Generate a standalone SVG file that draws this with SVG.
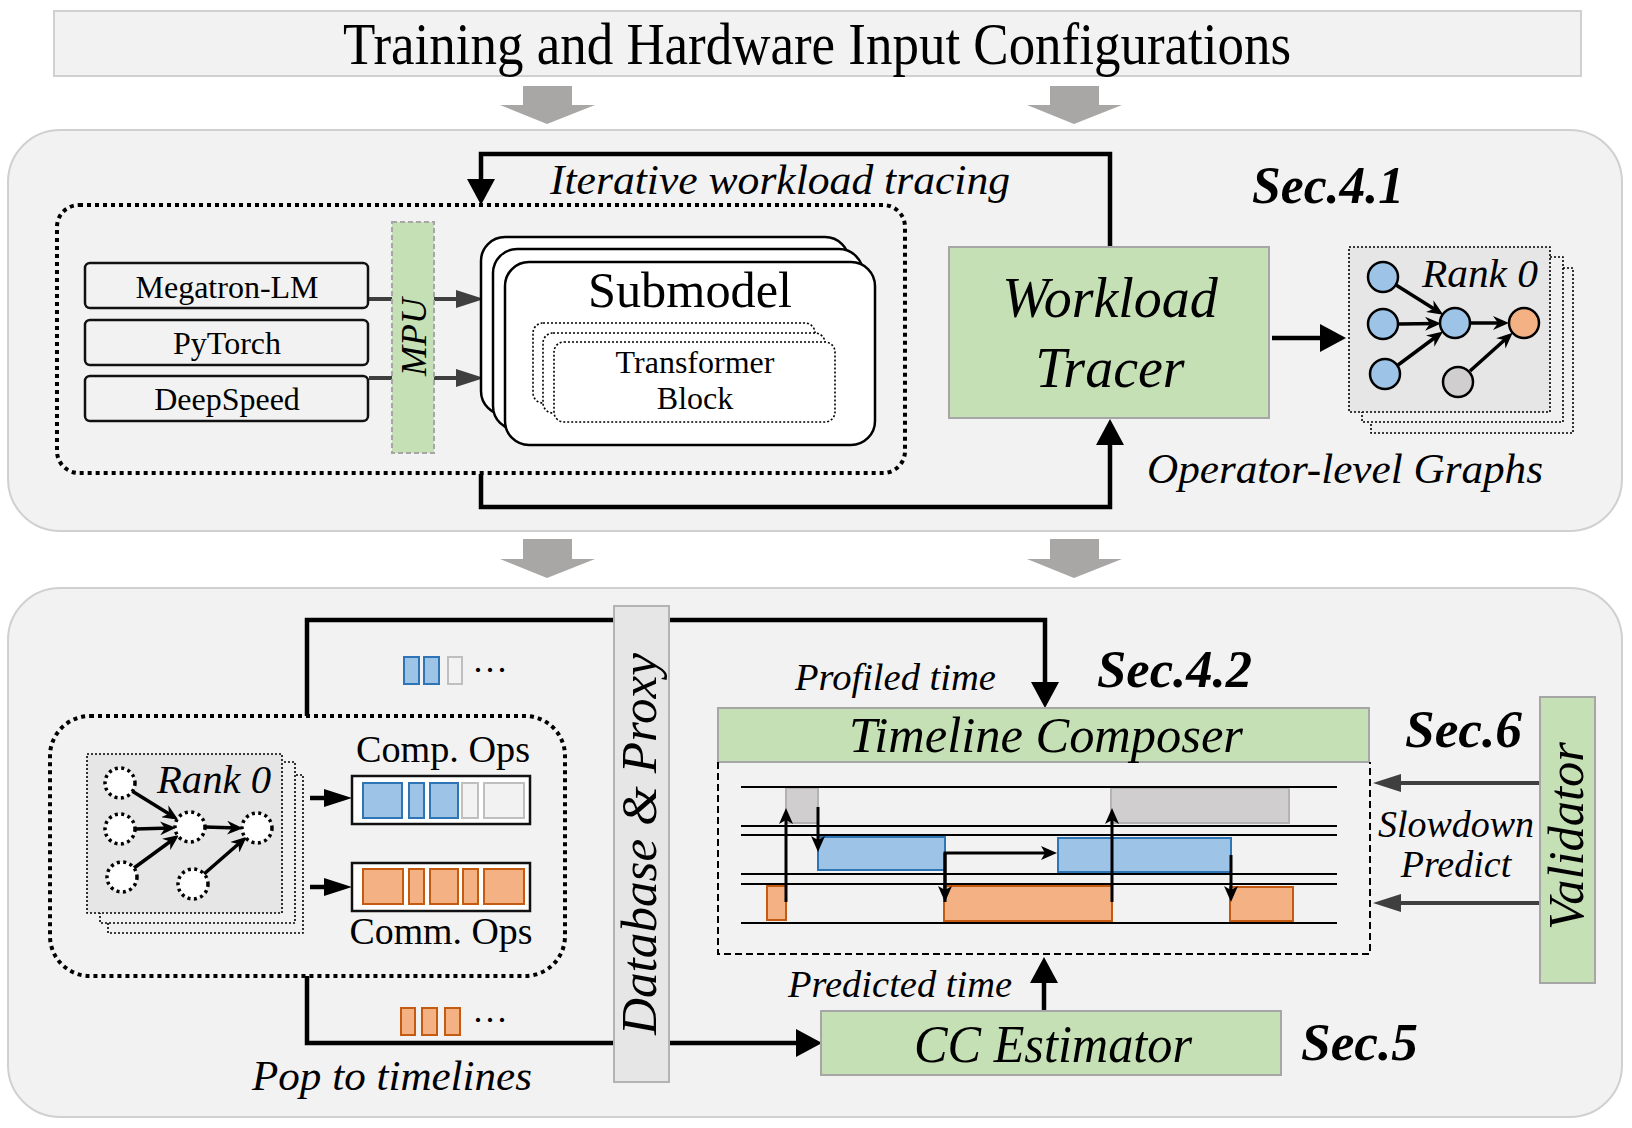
<svg xmlns="http://www.w3.org/2000/svg" width="1632" height="1128" viewBox="0 0 1632 1128">
<style>
text{font-family:"Liberation Serif","Times New Roman",serif;fill:#000}
.it{font-style:italic}
.sec{font-style:italic;font-weight:bold;font-size:52px}
.panel{fill:#f2f2f2;stroke:#d0d0d0;stroke-width:2}
.green{fill:#c5e0b4;stroke:#a6a6a6;stroke-width:2}
.fw{fill:#f2f2f2;stroke:#111;stroke-width:2.5}
.conn{fill:none;stroke:#000;stroke-width:4.5}
.dconn{fill:none;stroke:#3f3f3f;stroke-width:4}
.edge{fill:none;stroke:#000;stroke-width:3.5}
.tl{fill:none;stroke:#000;stroke-width:3}
.tline{stroke:#000;stroke-width:2}
.dot{stroke:#000;stroke-width:1.6;stroke-dasharray:2 2}
.blue{fill:#9dc3e6;stroke:#2e75b6;stroke-width:2}
.orange{fill:#f4b183;stroke:#c55a11;stroke-width:2}
.gray{fill:#d0cece;stroke:#b5b2b2;stroke-width:2}
.wg{fill:#f2f2f2;stroke:#bfbfbf;stroke-width:2}
.garrow{fill:#a9a6a6}
</style>
<defs>
<marker id="big" viewBox="0 0 26 28" refX="14" refY="14" markerWidth="26" markerHeight="28" orient="auto" markerUnits="userSpaceOnUse"><path d="M0,0 L26,14 L0,28 Z" fill="#000"/></marker>
<marker id="dg" viewBox="0 0 28 18" refX="16" refY="9" markerWidth="28" markerHeight="18" orient="auto" markerUnits="userSpaceOnUse"><path d="M0,0 L28,9 L0,18 Z" fill="#3f3f3f"/></marker>
<marker id="bm" viewBox="0 0 28 18" refX="16" refY="9" markerWidth="28" markerHeight="18" orient="auto" markerUnits="userSpaceOnUse"><path d="M0,0 L28,9 L0,18 Z" fill="#000"/></marker>
<marker id="barb" viewBox="0 0 16 14" refX="11" refY="7" markerWidth="16" markerHeight="14" orient="auto" markerUnits="userSpaceOnUse"><path d="M0,0 L16,7 L0,14 L5,7 Z" fill="#000"/></marker>
<marker id="tla" viewBox="0 0 16 14" refX="10" refY="7" markerWidth="16" markerHeight="14" orient="auto" markerUnits="userSpaceOnUse"><path d="M0,0 L16,7 L0,14 L4,7 Z" fill="#000"/></marker>
</defs>

<!-- top input box -->
<g id="input-config">
<rect x="54" y="11" width="1527" height="65" fill="#f2f2f2" stroke="#d0d0d0" stroke-width="2"/>
<text x="817" y="64" font-size="60" text-anchor="middle" textLength="948" lengthAdjust="spacingAndGlyphs">Training and Hardware Input Configurations</text>
</g>

<!-- gray flow arrows -->
<g id="gray-arrows">
<path class="garrow" d="M523,86 H572 V105 H595 L547,124 L500,105 H523 Z"/>
<path class="garrow" d="M1050,86 H1099 V105 H1122 L1074,124 L1027,105 H1050 Z"/>
<path class="garrow" d="M523,539 H572 V559 H595 L547,578 L500,559 H523 Z"/>
<path class="garrow" d="M1050,539 H1099 V559 H1122 L1074,578 L1027,559 H1050 Z"/>
</g>

<!-- panels -->
<rect id="panel-1" class="panel" x="8" y="130" width="1614" height="401" rx="52"/>
<rect id="panel-2" class="panel" x="8" y="588" width="1614" height="529" rx="52"/>

<!-- connectors -->
<g id="connectors">
<path class="conn" d="M1110,247 V154 H481 V193" marker-end="url(#big)"/>
<path class="conn" d="M481,474 V507 H1110 V431" marker-end="url(#big)"/>
<path class="conn" d="M1272,338 H1334" marker-end="url(#big)"/>
<path class="dconn" d="M369,299 H472" marker-end="url(#dg)"/>
<path class="dconn" d="M369,378 H472" marker-end="url(#dg)"/>
<path class="conn" d="M307,716 V620 H1045 V696" marker-end="url(#big)"/>
<path class="conn" d="M307,976 V1043 H810" marker-end="url(#big)"/>
<path class="conn" d="M1044,1011 V969" marker-end="url(#big)"/>
<path class="conn" d="M310,798 H340" marker-end="url(#bm)"/>
<path class="conn" d="M310,887 H340" marker-end="url(#bm)"/>
<path class="dconn" d="M1541,783 H1385" marker-end="url(#dg)"/>
<path class="dconn" d="M1541,903 H1385" marker-end="url(#dg)"/>
</g>

<!-- panel 1 -->
<g id="framework-group">
<rect x="57" y="205" width="848" height="268" rx="22" fill="none" stroke="#000" stroke-width="4" stroke-dasharray="4 4"/>
</g>
<text id="iter-label" class="it" x="550" y="194" font-size="42" textLength="460" lengthAdjust="spacingAndGlyphs">Iterative workload tracing</text>

<g id="megatron"><rect class="fw" x="85" y="263" width="283" height="45" rx="5"/><text x="227" y="298" font-size="32" text-anchor="middle">Megatron-LM</text></g>
<g id="pytorch"><rect class="fw" x="85" y="320" width="283" height="45" rx="5"/><text x="227" y="354" font-size="32" text-anchor="middle">PyTorch</text></g>
<g id="deepspeed"><rect class="fw" x="85" y="376" width="283" height="45" rx="5"/><text x="227" y="410" font-size="32" text-anchor="middle">DeepSpeed</text></g>

<g id="mpu">
<rect x="392" y="222" width="42" height="231" fill="#c5e0b4" stroke="#a6a6a6" stroke-width="2" stroke-dasharray="5 3"/>
<text class="it" transform="translate(426,337) rotate(-90)" font-size="36" text-anchor="middle">MPU</text>
</g>

<g id="submodel">
<rect x="481" y="237" width="368" height="178" rx="24" fill="#fff" stroke="#000" stroke-width="2.5"/>
<rect x="493" y="249" width="370" height="181" rx="24" fill="#fff" stroke="#000" stroke-width="2.5"/>
<rect x="505" y="262" width="370" height="183" rx="24" fill="#fff" stroke="#000" stroke-width="2.5"/>
<text x="690" y="307" font-size="51" text-anchor="middle" textLength="204" lengthAdjust="spacingAndGlyphs">Submodel</text>
<rect x="533" y="323" width="282" height="80" rx="10" fill="#fff" class="dot"/>
<rect x="543" y="333" width="282" height="80" rx="10" fill="#fff" class="dot"/>
<rect x="554" y="342" width="281" height="80" rx="10" fill="#fff" class="dot"/>
<text x="695" y="373" font-size="32" text-anchor="middle">Transformer</text>
<text x="695" y="409" font-size="32" text-anchor="middle">Block</text>
</g>

<g id="workload-tracer">
<rect class="green" x="949" y="247" width="320" height="171"/>
<text class="it" x="1110" y="317" font-size="56" text-anchor="middle">Workload</text>
<text class="it" x="1110" y="387" font-size="56" text-anchor="middle">Tracer</text>
</g>
<text id="sec41" class="sec" x="1252" y="203" textLength="152" lengthAdjust="spacingAndGlyphs">Sec.4.1</text>

<g id="op-graph">
<rect x="1371" y="268" width="202" height="165" fill="#f0f0f0" class="dot"/>
<rect x="1362" y="257" width="201" height="165" fill="#f0f0f0" class="dot"/>
<rect x="1349" y="247" width="201" height="165" fill="#e6e6e6" class="dot"/>
<text class="it" x="1422" y="287" font-size="40" textLength="116" lengthAdjust="spacingAndGlyphs">Rank 0</text>
<line class="edge" x1="1396" y1="285" x2="1439" y2="312" marker-end="url(#barb)"/>
<line class="edge" x1="1399" y1="324" x2="1436" y2="323.5" marker-end="url(#barb)"/>
<line class="edge" x1="1398" y1="365" x2="1439" y2="334.5" marker-end="url(#barb)"/>
<line class="edge" x1="1471" y1="323" x2="1504" y2="323" marker-end="url(#barb)"/>
<line class="edge" x1="1470" y1="371" x2="1509" y2="336" marker-end="url(#barb)"/>
<circle cx="1383" cy="277" r="15" fill="#9dc3e6" stroke="#000" stroke-width="2.5"/>
<circle cx="1383" cy="324" r="15" fill="#9dc3e6" stroke="#000" stroke-width="2.5"/>
<circle cx="1385" cy="374" r="15" fill="#9dc3e6" stroke="#000" stroke-width="2.5"/>
<circle cx="1455" cy="323" r="15" fill="#9dc3e6" stroke="#000" stroke-width="2.5"/>
<circle cx="1524" cy="323" r="15" fill="#f4b183" stroke="#000" stroke-width="2.5"/>
<circle cx="1458" cy="382" r="15" fill="#d0cece" stroke="#000" stroke-width="2.5"/>
</g>
<text id="op-graph-label" class="it" x="1147" y="483" font-size="42" textLength="396" lengthAdjust="spacingAndGlyphs">Operator-level Graphs</text>

<!-- panel 2 -->
<g id="db-proxy">
<rect x="614" y="606" width="55" height="476" fill="#e6e6e6" stroke="#b3b3b3" stroke-width="2"/>
<text class="it" transform="translate(656,844) rotate(-90)" font-size="50" text-anchor="middle" textLength="382" lengthAdjust="spacingAndGlyphs">Database &amp; Proxy</text>
</g>

<g id="queue-comp">
<rect class="blue" x="404" y="657" width="15" height="27"/>
<rect class="blue" x="424" y="657" width="15" height="27"/>
<rect class="wg" x="448" y="657" width="14" height="27"/>
<text x="472" y="682" font-size="36">···</text>
</g>
<g id="queue-comm">
<rect class="orange" x="401" y="1008" width="14" height="27"/>
<rect class="orange" x="422" y="1008" width="15" height="27"/>
<rect class="orange" x="445" y="1008" width="15" height="27"/>
<text x="472" y="1032" font-size="36">···</text>
</g>

<g id="ops-group">
<rect x="50" y="716" width="515" height="260" rx="40" fill="none" stroke="#000" stroke-width="4" stroke-dasharray="4 4"/>
<rect x="108" y="775" width="195" height="158" fill="#f0f0f0" class="dot"/>
<rect x="100" y="762" width="195" height="161" fill="#f0f0f0" class="dot"/>
<rect x="87" y="754" width="195" height="159" fill="#e6e6e6" class="dot"/>
<text class="it" x="157" y="793" font-size="40" textLength="114" lengthAdjust="spacingAndGlyphs">Rank 0</text>
<line class="edge" x1="132" y1="791" x2="174" y2="817" marker-end="url(#barb)"/>
<line class="edge" x1="135" y1="829" x2="171" y2="828" marker-end="url(#barb)"/>
<line class="edge" x1="134" y1="868" x2="175" y2="838" marker-end="url(#barb)"/>
<line class="edge" x1="205" y1="827" x2="238" y2="828" marker-end="url(#barb)"/>
<line class="edge" x1="204" y1="874" x2="243" y2="840" marker-end="url(#barb)"/>
<g fill="#fff" stroke="#000" stroke-width="3.5" stroke-dasharray="3 3.5">
<circle cx="120" cy="783" r="15"/>
<circle cx="120" cy="829" r="15"/>
<circle cx="122" cy="877" r="15"/>
<circle cx="190" cy="827" r="15"/>
<circle cx="257" cy="828" r="15"/>
<circle cx="193" cy="884" r="15"/>
</g>
<text x="443" y="762" font-size="37" text-anchor="middle" textLength="174" lengthAdjust="spacingAndGlyphs">Comp. Ops</text>
<rect x="352" y="776" width="178" height="48" fill="#fff" stroke="#111" stroke-width="2.5"/>
<rect class="blue" x="363" y="783" width="39" height="35"/>
<rect class="blue" x="409" y="783" width="15" height="35"/>
<rect class="blue" x="430" y="783" width="28" height="35"/>
<rect class="wg" x="462" y="783" width="16" height="35"/>
<rect class="wg" x="484" y="783" width="40" height="35"/>
<rect x="352" y="863" width="178" height="48" fill="#fff" stroke="#111" stroke-width="2.5"/>
<rect class="orange" x="363" y="869" width="40" height="35"/>
<rect class="orange" x="409" y="869" width="15" height="35"/>
<rect class="orange" x="430" y="869" width="28" height="35"/>
<rect class="orange" x="463" y="869" width="15" height="35"/>
<rect class="orange" x="484" y="869" width="40" height="35"/>
<text x="441" y="944" font-size="38" text-anchor="middle" textLength="183" lengthAdjust="spacingAndGlyphs">Comm. Ops</text>
</g>
<text id="pop-label" class="it" x="252" y="1090" font-size="42" textLength="280" lengthAdjust="spacingAndGlyphs">Pop to timelines</text>

<text id="profiled-label" class="it" x="795" y="690" font-size="38" textLength="201" lengthAdjust="spacingAndGlyphs">Profiled time</text>
<text id="sec42" class="sec" x="1097" y="687" textLength="155" lengthAdjust="spacingAndGlyphs">Sec.4.2</text>

<g id="timeline-composer">
<rect class="green" x="718" y="708" width="651" height="54"/>
<text class="it" x="1046" y="752" font-size="50" text-anchor="middle" textLength="394" lengthAdjust="spacingAndGlyphs">Timeline Composer</text>
<path d="M718,762 V954 H1370 V762" fill="none" stroke="#000" stroke-width="2" stroke-dasharray="7 4"/>
<rect class="gray" x="786" y="788" width="32" height="35"/>
<rect class="gray" x="1111" y="788" width="178" height="35"/>
<rect class="blue" x="818" y="837" width="127" height="33"/>
<rect class="blue" x="1058" y="838" width="173" height="34"/>
<rect class="orange" x="767" y="886" width="19" height="34"/>
<rect class="orange" x="944" y="886" width="168" height="35"/>
<rect class="orange" x="1230" y="887" width="63" height="34"/>
<g class="tline">
<line x1="741" y1="787" x2="1337" y2="787"/>
<line x1="741" y1="826" x2="1337" y2="826"/>
<line x1="741" y1="835" x2="1337" y2="835"/>
<line x1="741" y1="874" x2="1337" y2="874"/>
<line x1="741" y1="884" x2="1337" y2="884"/>
<line x1="741" y1="923" x2="1337" y2="923"/>
</g>
<path class="tl" d="M786,902 V814" marker-end="url(#tla)"/>
<path class="tl" d="M818,807 V846" marker-end="url(#tla)"/>
<path class="tl" d="M945,902 V853 H1051" marker-end="url(#tla)"/>
<path class="tl" d="M945,853 V896" marker-end="url(#tla)"/>
<path class="tl" d="M1112,902 V814" marker-end="url(#tla)"/>
<path class="tl" d="M1231,855 V896" marker-end="url(#tla)"/>
</g>

<text id="sec6" class="sec" x="1405" y="747" textLength="117" lengthAdjust="spacingAndGlyphs">Sec.6</text>
<g id="validator">
<rect class="green" x="1540" y="697" width="55" height="286"/>
<text class="it" transform="translate(1583,836) rotate(-90)" font-size="50" text-anchor="middle" textLength="188" lengthAdjust="spacingAndGlyphs">Validator</text>
</g>
<text id="slowdown-label" class="it" font-size="38" text-anchor="middle"><tspan x="1456" y="837">Slowdown</tspan><tspan x="1456" y="877">Predict</tspan></text>

<text id="predicted-label" class="it" x="788" y="997" font-size="38" textLength="224" lengthAdjust="spacingAndGlyphs">Predicted time</text>
<g id="cc-estimator">
<rect class="green" x="821" y="1011" width="460" height="64"/>
<text class="it" x="1053" y="1062" font-size="52" text-anchor="middle" textLength="278" lengthAdjust="spacingAndGlyphs">CC Estimator</text>
</g>
<text id="sec5" class="sec" x="1301" y="1060" textLength="117" lengthAdjust="spacingAndGlyphs">Sec.5</text>
</svg>
